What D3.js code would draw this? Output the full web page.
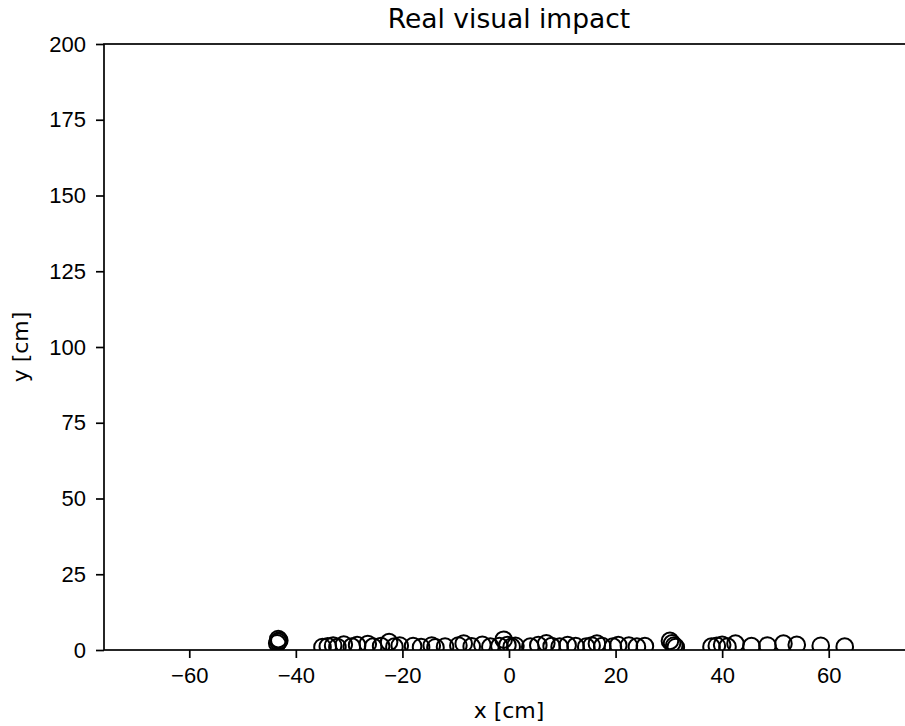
<!DOCTYPE html>
<html lang="en">
<head>
  <meta charset="UTF-8">
  <title>Real visual impact</title>
  <script src="https://d3js.org/d3.v7.min.js"></script>
  <style>
    html, body { margin: 0; padding: 0; background: #fff; overflow: hidden; }
    svg { display: block; font-family: "DejaVu Sans", sans-serif; }
    .tick text { font-size: 22px; fill: #000; }
    .tick line { stroke: #000; stroke-width: 1.7; }
  </style>
</head>
<body>
  <div id="chart"></div>
  <script>
    // impact points (cm)
    const xVals = [
      -43.5, -43.3, -43.1, -43.3,
      -35.0, -34.0, -33.0, -32.2, -31.0, -29.5, -28.5, -26.5, -25.5, -24.0,
      -22.5, -21.5, -20.5, -18.0, -16.5, -14.5, -13.8, -12.0, -9.5, -8.5,
      -7.0, -5.0, -3.5, -1.8, -1.0, -0.3, 0.5, 1.2, 4.0, 5.5, 7.0, 8.0,
      9.5, 11.0, 12.5, 14.5, 15.5, 16.5, 17.5, 19.5, 20.5, 22.5, 24.0, 25.5,
      30.2, 30.6, 31.0, 31.3,
      38.0, 39.0, 40.0, 41.0, 42.5, 45.5, 48.5, 51.5, 54.0, 58.5, 63.0
    ];
    const yVals = [
      2.2, 2.7, 3.1, 3.6,
      1.0, 1.2, 1.5, 1.0, 1.8, 1.1, 1.6, 2.0, 1.1, 1.3,
      2.6, 1.1, 1.5, 1.3, 1.0, 1.5, 0.9, 1.1, 1.5, 2.1,
      1.2, 1.7, 1.1, 1.3, 3.4, 1.6, 1.1, 1.4, 1.1, 1.6, 2.2, 1.3,
      1.1, 1.6, 1.3, 1.1, 1.5, 2.1, 1.3, 1.1, 1.6, 1.5, 1.1, 1.3,
      3.0, 2.2, 1.5, 1.0,
      1.1, 1.4, 1.7, 1.1, 2.1, 1.3, 1.5, 2.1, 1.7, 1.4, 1.1
    ];
    const xTicks = [-60, -40, -20, 0, 20, 40, 60];
    const yTicks = [0, 25, 50, 75, 100, 125, 150, 175, 200];

    const width = 905, height = 726;
    const m = {left: 104, right: 914, top: 44, bottom: 650};

    const svg = d3.select("#chart").append("svg")
      .attr("width", width)
      .attr("height", height);

    const x = d3.scaleLinear().domain([-76, 76]).range([m.left, m.right]);
    const y = d3.scaleLinear().domain([0, 200]).range([m.bottom, m.top]);

    svg.append("clipPath").attr("id", "plot-clip")
      .append("rect")
      .attr("x", m.left).attr("y", m.top)
      .attr("width", m.right - m.left).attr("height", m.bottom - m.top);

    // markers
    svg.append("g")
      .attr("clip-path", "url(#plot-clip)")
      .selectAll("circle")
      .data(xVals.map((v, i) => [v, yVals[i]]))
      .join("circle")
      .attr("cx", d => x(d[0]))
      .attr("cy", d => y(d[1]))
      .attr("r", 8.3)
      .attr("fill", "none")
      .attr("stroke", "#000")
      .attr("stroke-width", 2);

    // axes
    const xAxis = svg.append("g")
      .attr("transform", `translate(0,${m.bottom})`)
      .call(d3.axisBottom(x).tickValues(xTicks).tickSize(8).tickPadding(8)
        .tickFormat(d => d < 0 ? "\u2212" + Math.abs(d) : d));
    xAxis.select(".domain").remove();
    xAxis.selectAll("text").attr("dy", "0.76em");

    const yAxis = svg.append("g")
      .attr("transform", `translate(${m.left},0)`)
      .call(d3.axisLeft(y).tickValues(yTicks).tickSize(8).tickPadding(10));
    yAxis.select(".domain").remove();

    // frame
    svg.append("rect")
      .attr("x", m.left).attr("y", m.top)
      .attr("width", m.right - m.left).attr("height", m.bottom - m.top)
      .attr("fill", "none")
      .attr("stroke", "#000")
      .attr("stroke-width", 1.7);

    svg.append("text")
      .attr("x", (m.left + m.right) / 2).attr("y", 28)
      .attr("text-anchor", "middle")
      .attr("font-size", 26.5)
      .text("Real visual impact");

    svg.append("text")
      .attr("x", (m.left + m.right) / 2).attr("y", 718)
      .attr("text-anchor", "middle")
      .attr("font-size", 22)
      .text("x [cm]");

    svg.append("text")
      .attr("transform", `translate(28,${(m.top + m.bottom) / 2}) rotate(-90)`)
      .attr("text-anchor", "middle")
      .attr("font-size", 22)
      .text("y [cm]");
  </script>
</body>
</html>
